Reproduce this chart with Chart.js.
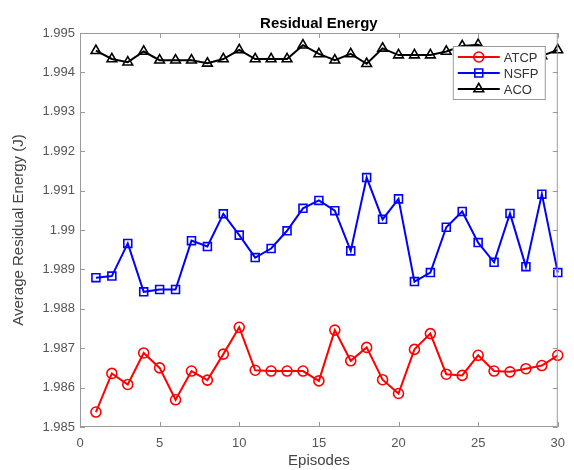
<!DOCTYPE html>
<html>
<head>
<meta charset="utf-8">
<title>Residual Energy</title>
<script src="https://cdn.jsdelivr.net/npm/chart.js@4/dist/chart.umd.min.js"></script>
<style>
  html, body { margin: 0; padding: 0; background: #fff; }
  #wrap { width: 574px; height: 470px; }
</style>
</head>
<body>
<div id="wrap"><canvas id="energyChart" width="574" height="470"></canvas></div>
<script>
// ---- data ----
const episodes = [1, 2, 3, 4, 5, 6, 7, 8, 9, 10, 11, 12, 13, 14, 15,
                  16, 17, 18, 19, 20, 21, 22, 23, 24, 25, 26, 27, 28, 29, 30];

const atcp = [1.98538, 1.98636, 1.98608, 1.98688, 1.98650, 1.98569, 1.98642, 1.98619, 1.98685, 1.98753,
              1.98644, 1.98642, 1.98642, 1.98642, 1.98617, 1.98746, 1.98668, 1.98702, 1.98620, 1.98585,
              1.98697, 1.98737, 1.98634, 1.98631, 1.98682, 1.98642, 1.98640, 1.98648, 1.98656, 1.98682];

const nsfp = [1.98879, 1.98883, 1.98966, 1.98843, 1.98849, 1.98849, 1.98973, 1.98958, 1.99041, 1.98987,
              1.98930, 1.98953, 1.98998, 1.99055, 1.99075, 1.99049, 1.98947, 1.99133, 1.99027, 1.99079,
              1.98869, 1.98892, 1.99007, 1.99047, 1.98968, 1.98918, 1.99042, 1.98907, 1.99091, 1.98892];

const aco = [1.99455, 1.99434, 1.99426, 1.99453, 1.99431, 1.99431, 1.99431, 1.99423, 1.99434, 1.99457,
             1.99434, 1.99434, 1.99434, 1.99469, 1.99447, 1.99431, 1.99447, 1.99422, 1.99461, 1.99444,
             1.99444, 1.99444, 1.99453, 1.99467, 1.99470, 1.99448, 1.99440, 1.99446, 1.99442, 1.99457];

const xTicks = [0, 5, 10, 15, 20, 25, 30];
const yTicks = [1.985, 1.986, 1.987, 1.988, 1.989, 1.990, 1.991, 1.992, 1.993, 1.994, 1.995];

const FONT = '"Liberation Sans", Arial, Helvetica, sans-serif';

function toPoints(values) {
    return episodes.map((ep, i) => ({ x: ep, y: values[i] }));
}

function series(label, values, color, style, radius) {
    return {
        label: label,
        data: toPoints(values),
        borderColor: color,
        backgroundColor: color,
        borderWidth: 2,
        pointStyle: style,
        pointRadius: radius,
        pointBorderColor: color,
        pointBackgroundColor: 'rgba(255,255,255,0)',
        pointBorderWidth: 1.6,
        tension: 0,
        clip: false
    };
}

// MATLAB style box with inward ticks
const axesBox = {
    id: 'axesBox',
    afterDatasetsDraw(chart) {
        const { ctx, chartArea: a, scales } = chart;
        ctx.save();
        ctx.strokeStyle = '#9a9a9a';
        ctx.lineWidth = 1;
        ctx.strokeRect(a.left + 0.5, a.top + 0.5, a.right - a.left - 1, a.bottom - a.top - 1);
        const len = 5;
        ctx.beginPath();
        xTicks.forEach(v => {
            const px = Math.round(scales.x.getPixelForValue(v)) + 0.5;
            ctx.moveTo(px, a.bottom); ctx.lineTo(px, a.bottom - len);
            ctx.moveTo(px, a.top); ctx.lineTo(px, a.top + len);
        });
        yTicks.forEach(v => {
            const py = Math.round(scales.y.getPixelForValue(v)) + 0.5;
            ctx.moveTo(a.left, py); ctx.lineTo(a.left + len, py);
            ctx.moveTo(a.right, py); ctx.lineTo(a.right - len, py);
        });
        ctx.stroke();
        ctx.restore();
    }
};

// legend drawn inside the axes, top-right (covers the points under it like the original)
const innerLegend = {
    id: 'innerLegend',
    afterDraw(chart) {
        const { ctx, chartArea: a } = chart;
        const w = 93, h = 54;
        const x0 = a.right - 12 - w, y0 = a.top + 13;
        ctx.save();
        ctx.fillStyle = '#fff';
        ctx.fillRect(x0, y0, w, h);
        ctx.strokeStyle = '#9a9a9a';
        ctx.lineWidth = 1;
        ctx.strokeRect(x0 + 0.5, y0 + 0.5, w - 1, h - 1);
        chart.data.datasets.forEach((ds, i) => {
            const cy = y0 + 11 + i * 16;
            ctx.strokeStyle = ds.borderColor;
            ctx.lineWidth = 2;
            ctx.beginPath();
            ctx.moveTo(x0 + 5, cy);
            ctx.lineTo(x0 + 47, cy);
            ctx.stroke();
            ctx.fillStyle = 'rgba(255,255,255,0)';
            ctx.strokeStyle = ds.borderColor;
            ctx.lineWidth = ds.pointBorderWidth;
            Chart.helpers.drawPoint(ctx, {
                pointStyle: ds.pointStyle,
                radius: ds.pointRadius,
                borderWidth: ds.pointBorderWidth,
                rotation: 0
            }, x0 + 26, cy);
            ctx.fillStyle = '#333';
            ctx.font = '13px ' + FONT;
            ctx.textBaseline = 'middle';
            ctx.fillText(ds.label, x0 + 51, cy + 1);
        });
        ctx.restore();
    }
};

const ctx = document.getElementById('energyChart').getContext('2d');
const energyChart = new Chart(ctx, {
    type: 'line',
    data: {
        datasets: [
            series('ATCP', atcp, '#ff0000', 'circle', 5),
            series('NSFP', nsfp, '#0000ff', 'rect', 5.6),
            series('ACO', aco, '#000000', 'triangle', 5.6)
        ]
    },
    options: {
        responsive: false,
        animation: false,
        layout: { padding: { left: 0, right: 14, top: 0, bottom: 0 } },
        plugins: {
            legend: { display: false },
            tooltip: { enabled: false },
            title: {
                display: true,
                text: 'Residual Energy',
                fullSize: false,
                color: '#000',
                font: { family: FONT, size: 15, weight: 'bold' },
                padding: { top: 15, bottom: 0 }
            }
        },
        scales: {
            x: {
                type: 'linear',
                min: 0,
                max: 30,
                afterBuildTicks: s => { s.ticks = xTicks.map(v => ({ value: v })); },
                afterFit: s => { s.height = 43; },
                grid: { display: false, drawTicks: false },
                border: { display: false },
                ticks: {
                    color: '#555',
                    font: { family: FONT, size: 13 },
                    padding: 9,
                    maxRotation: 0
                },
                title: {
                    display: true,
                    text: 'Episodes',
                    color: '#444',
                    font: { family: FONT, size: 15 },
                    padding: { top: 0, bottom: 0 }
                }
            },
            y: {
                min: 1.985,
                max: 1.995,
                afterBuildTicks: s => { s.ticks = yTicks.map(v => ({ value: v })); },
                afterFit: s => { s.width = 80; },
                grid: { display: false, drawTicks: false },
                border: { display: false },
                ticks: {
                    color: '#555',
                    font: { family: FONT, size: 13 },
                    padding: 5,
                    callback: v => String(Number(v.toFixed(3)))
                },
                title: {
                    display: true,
                    text: 'Average Residual Energy (J)',
                    color: '#444',
                    font: { family: FONT, size: 15 },
                    padding: { top: 10, bottom: 0 }
                }
            }
        }
    },
    plugins: [axesBox, innerLegend]
});
</script>
</body>
</html>
